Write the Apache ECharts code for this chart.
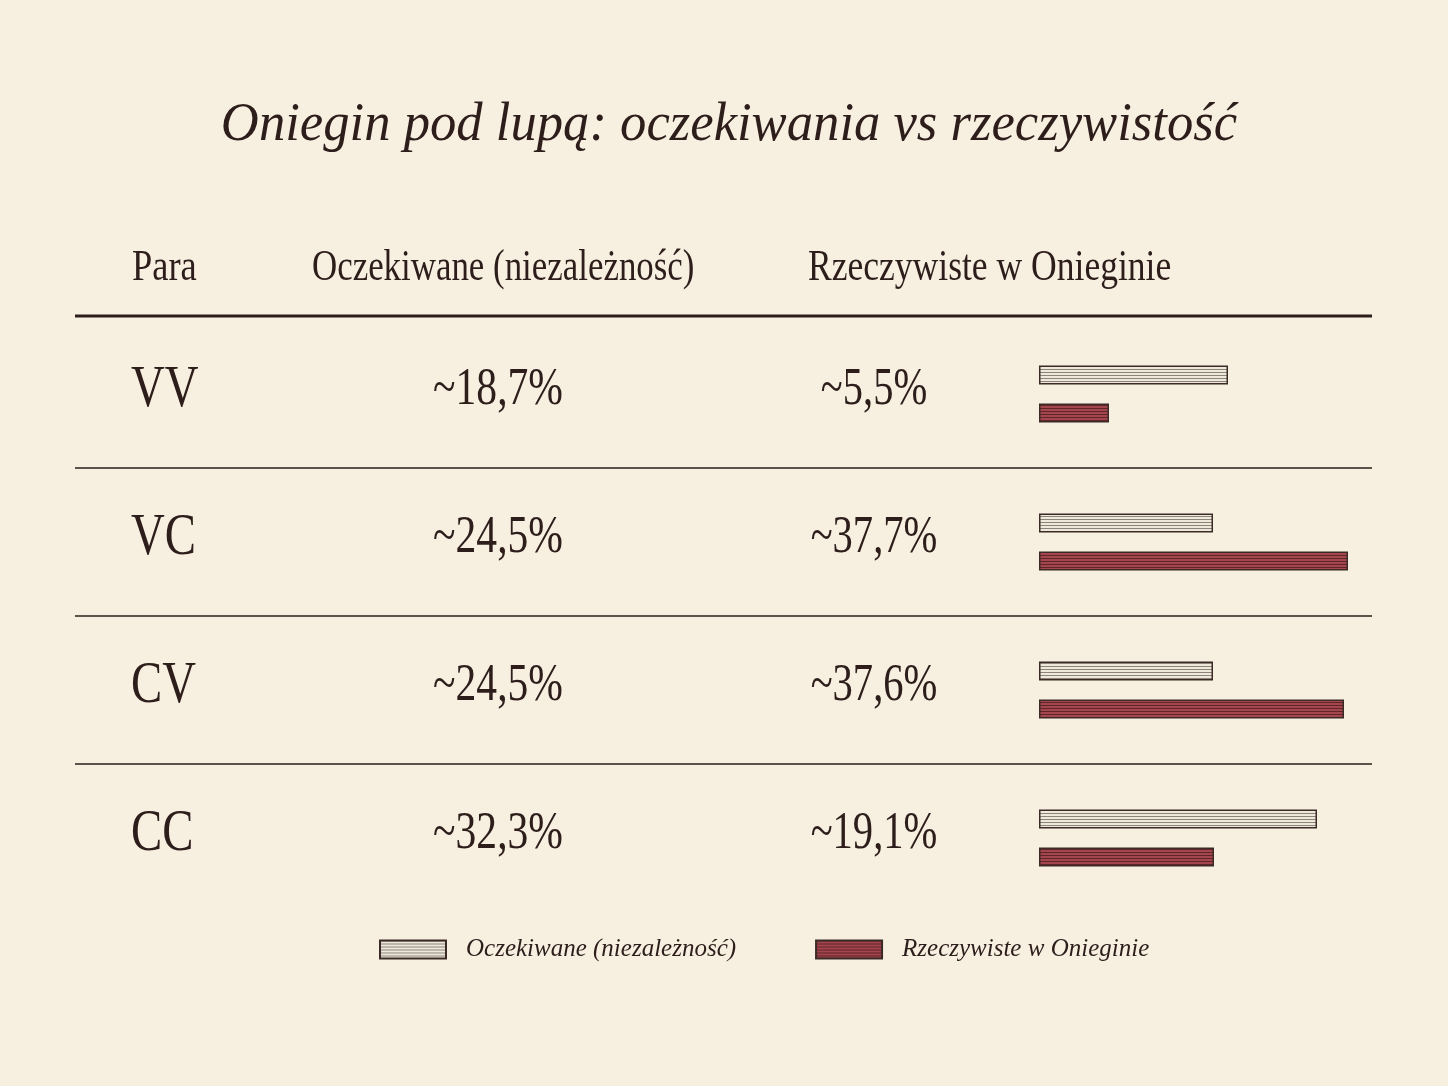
<!DOCTYPE html>
<html>
<head>
<meta charset="utf-8">
<script src="https://cdn.jsdelivr.net/npm/echarts@6/dist/echarts.min.js"></script>
<style>
  html, body { margin: 0; padding: 0; background: #f7f0e0; }
  #chart { width: 1448px; height: 1086px; }
</style>
</head>
<body>
<div id="chart"></div>
<script>
// dane
const pairs = ["VV", "VC", "CV", "CC"];
const expected = [18.7, 24.5, 24.5, 32.3];
const actual = [5.5, 37.7, 37.6, 19.1];
// długości pasków (skala osi 0..33)
const barExpected = [18.9, 17.4, 17.4, 27.8];
const barActual = [7.0, 30.9, 30.5, 17.5];
const headers = ["Para", "Oczekiwane (niezależność)", "Rzeczywiste w Onieginie"];
const seriesNames = ["Oczekiwane (niezależność)", "Rzeczywiste w Onieginie"];
const titleText = "Oniegin pod lupą: oczekiwania vs rzeczywistość";

const ink = "#2d1d1b";
const serif = "'Liberation Serif', 'DejaVu Serif', serif";

// wzór w poziome paski
function stripes(bg, line) {
  const c = document.createElement("canvas");
  c.width = 8;
  c.height = 3;
  const ctx = c.getContext("2d");
  ctx.fillStyle = bg;
  ctx.fillRect(0, 0, 8, 3);
  ctx.fillStyle = line;
  ctx.fillRect(0, 0, 8, 1);
  return c;
}

const fmt = (v) => "~" + v.toFixed(1).replace(".", ",") + "%";

const chart = echarts.init(document.getElementById("chart"));

// układ tabeli
const tableLeft = 75;
const tableRight = 1372;
const headerLine = 316;
const rowH = 148;
const rowTop = 318;

const graphics = [];
graphics.push({
  type: "text",
  x: 729,
  y: 126,
  scaleX: 0.975,
  style: {
    text: titleText,
    fontFamily: serif,
    fontStyle: "italic",
    fontSize: 54,
    fill: ink,
    align: "center",
    verticalAlign: "middle",
  },
});

const headerX = [132, 312, 808];
const headerScale = [0.81, 0.775, 0.79];
headers.forEach((h, i) => {
  graphics.push({
    type: "text",
    x: headerX[i],
    y: 268,
    scaleX: headerScale[i],
    style: {
      text: h,
      fontFamily: serif,
      fontSize: 45,
      fill: ink,
      align: "left",
      verticalAlign: "middle",
    },
  });
});

graphics.push({
  type: "line",
  shape: { x1: tableLeft, y1: headerLine, x2: tableRight, y2: headerLine },
  style: { stroke: ink, lineWidth: 3 },
});

pairs.forEach((p, i) => {
  const cy = rowTop + rowH * i + 72;
  graphics.push({
    type: "text",
    x: 131,
    y: cy,
    scaleX: 0.78,
    style: {
      text: p,
      fontFamily: serif,
      fontSize: 60,
      fill: ink,
      align: "left",
      verticalAlign: "middle",
    },
  });
  graphics.push({
    type: "text",
    x: 498,
    y: cy,
    scaleX: 0.8,
    style: {
      text: fmt(expected[i]),
      fontFamily: serif,
      fontSize: 52,
      fill: ink,
      align: "center",
      verticalAlign: "middle",
    },
  });
  graphics.push({
    type: "text",
    x: 874,
    y: cy,
    scaleX: 0.78,
    style: {
      text: fmt(actual[i]),
      fontFamily: serif,
      fontSize: 52,
      fill: ink,
      align: "center",
      verticalAlign: "middle",
    },
  });
  if (i > 0) {
    const ly = headerLine + rowH * i + 4;
    graphics.push({
      type: "line",
      shape: { x1: tableLeft, y1: ly, x2: tableRight, y2: ly },
      style: { stroke: ink, lineWidth: 1.3 },
    });
  }
});

const option = {
  backgroundColor: "#f7f0e0",
  animation: false,
  graphic: graphics,
  legend: {
    left: 379,
    top: 937,
    padding: 0,
    itemWidth: 66,
    itemHeight: 18,
    itemGap: 79,
    icon: "rect",
    data: seriesNames,
    textStyle: {
      fontFamily: serif,
      fontStyle: "italic",
      fontSize: 25,
      color: ink,
      padding: [0, 0, 0, 15],
    },
  },
  grid: {
    left: 1039,
    top: rowTop + 2,
    width: 330,
    height: rowH * pairs.length,
  },
  xAxis: { type: "value", min: 0, max: 33, show: false },
  yAxis: { type: "category", data: pairs, inverse: true, show: false },
  series: [
    {
      name: seriesNames[0],
      type: "bar",
      data: barExpected,
      barWidth: 19,
      barGap: "100%",
      itemStyle: {
        color: { image: stripes("#efe9dc", "#8c8478"), repeat: "repeat" },
        borderColor: "#3b2a26",
        borderWidth: 1.5,
      },
    },
    {
      name: seriesNames[1],
      type: "bar",
      data: barActual,
      barWidth: 19,
      barGap: "100%",
      itemStyle: {
        color: { image: stripes("#a5454e", "#5e2629"), repeat: "repeat" },
        borderColor: "#3b2a26",
        borderWidth: 1.5,
      },
    },
  ],
};

chart.setOption(option);
</script>
</body>
</html>
